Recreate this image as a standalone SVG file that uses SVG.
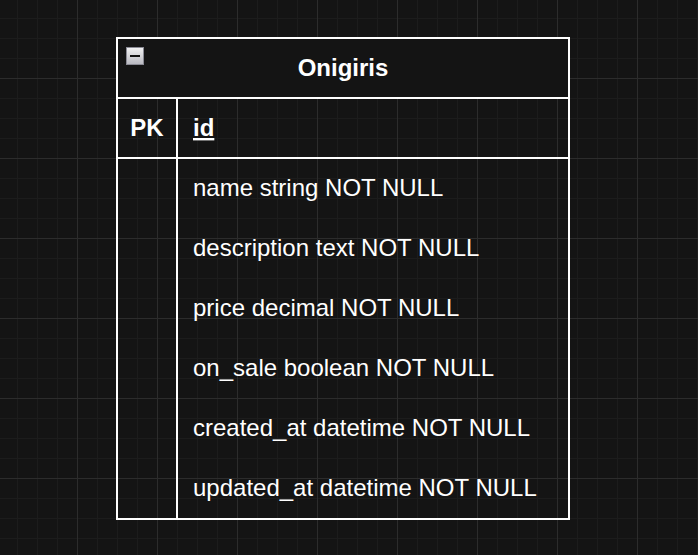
<svg xmlns="http://www.w3.org/2000/svg" width="698" height="555" viewBox="0 0 698 555">
  <defs>
    <pattern id="minor" patternUnits="userSpaceOnUse" x="17" y="18" width="20" height="20">
      <rect x="0" y="0" width="1" height="20" fill="#1c1c1c"/>
      <rect x="0" y="0" width="20" height="1" fill="#1c1c1c"/>
    </pattern>
    <pattern id="major" patternUnits="userSpaceOnUse" x="77" y="78" width="80" height="80">
      <rect x="0" y="0" width="1" height="80" fill="#2c2c2c"/>
      <rect x="0" y="0" width="80" height="1" fill="#2c2c2c"/>
    </pattern>
    <linearGradient id="btn" x1="0" y1="0" x2="0" y2="1">
      <stop offset="0" stop-color="#f2f2f2"/>
      <stop offset="1" stop-color="#b8b8c0"/>
    </linearGradient>
  </defs>
  <style>
    .t { font-family: "Liberation Sans", Arial, Helvetica, sans-serif; font-size: 24px; fill: #ffffff; }
    .b { font-weight: bold; }
    .ln { stroke: #ffffff; stroke-width: 2; fill: none; }
  </style>
  <rect x="0" y="0" width="698" height="555" fill="#141414"/>
  <rect x="0" y="0" width="698" height="555" fill="url(#minor)"/>
  <rect x="0" y="0" width="698" height="555" fill="url(#major)"/>

  <g id="onigiris">
    <rect x="117" y="38" width="452" height="60" fill="#141414"/>
    <rect class="ln" x="117" y="38" width="452" height="481"/>
    <line class="ln" x1="117" y1="98" x2="569" y2="98"/>
    <line class="ln" x1="117" y1="158" x2="569" y2="158"/>
    <line class="ln" x1="177" y1="98" x2="177" y2="519"/>
    <g id="collapse">
      <rect x="126.5" y="47.5" width="17" height="17" fill="url(#btn)" stroke="#8a8a94" stroke-width="1"/>
      <rect x="130" y="55" width="10" height="2" fill="#111111"/>
    </g>
    <text class="t b" x="343" y="76" text-anchor="middle">Onigiris</text>
    <text class="t b" x="147" y="136" text-anchor="middle">PK</text>
    <text class="t b" x="193" y="136" text-decoration="underline">id</text>
    <text class="t" x="193" y="196">name string NOT NULL</text>
    <text class="t" x="193" y="256">description text NOT NULL</text>
    <text class="t" x="193" y="316">price decimal NOT NULL</text>
    <text class="t" x="193" y="376">on_sale boolean NOT NULL</text>
    <text class="t" x="193" y="436">created_at datetime NOT NULL</text>
    <text class="t" x="193" y="496">updated_at datetime NOT NULL</text>
  </g>
  <g id="connectors"></g>
</svg>
